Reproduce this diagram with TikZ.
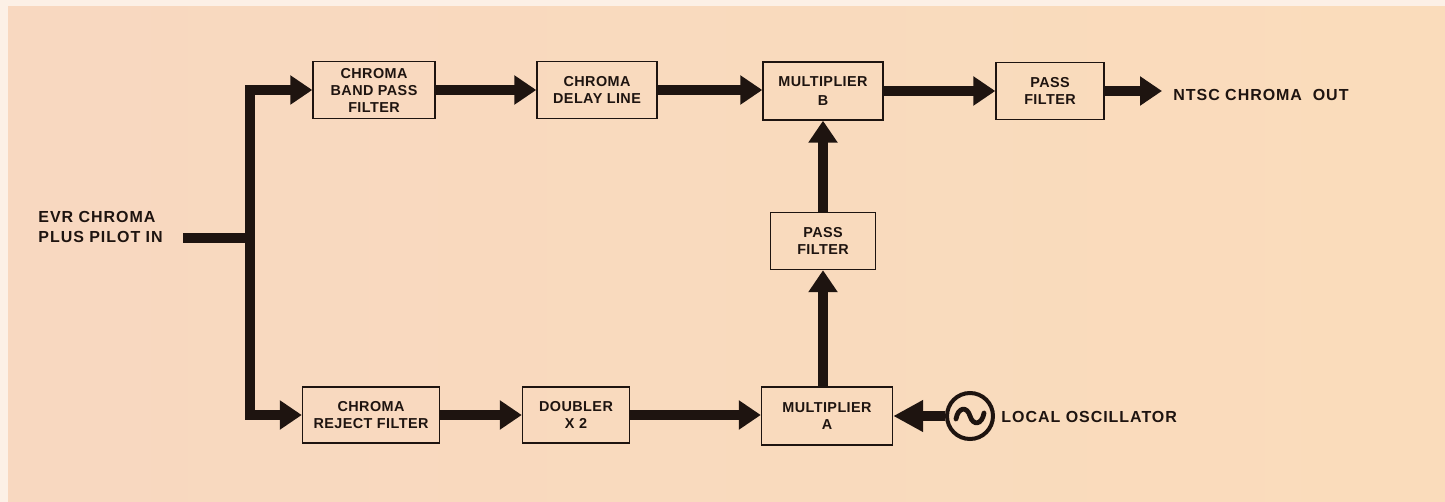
\documentclass[tikz,border=0pt]{standalone}
\usepackage{fontspec}
\setmainfont{Liberation Sans}
\newfontfamily\boxfam[LetterSpace=3]{Liberation Sans}
\newfontfamily\lblfam[LetterSpace=6]{Liberation Sans}
\newcommand{\boxfont}{\boxfam\bfseries\fontsize{7.2}{8.5}\selectfont}
\newcommand{\lblfont}{\lblfam\bfseries\fontsize{8}{10}\selectfont}
\usetikzlibrary{arrows.meta}
\definecolor{bgpeach}{HTML}{F8D8C0}
\definecolor{bgpeachR}{HTML}{FADCBB}
\definecolor{ink}{HTML}{1E1410}
\definecolor{edgecol}{HTML}{FCF0E6}
\tikzset{
  blk/.style={draw=ink, line width=0.7pt, text=ink, align=center, inner sep=0pt, font=\boxfont, minimum height=28.5pt},
  bus/.style={draw=ink, line width=5pt, line join=miter},
  arr/.style={bus, -{Triangle[length=11pt,width=14pt]}},
  lbl/.style={text=ink, font=\lblfont, inner sep=0pt},
}
\begin{document}
\begin{tikzpicture}[x=0.5pt,y=-0.5pt]
\useasboundingbox (0,0) rectangle (1445,502);
\fill[edgecol] (0,0) rectangle (1445,502);
\shade[left color=bgpeach, right color=bgpeachR] (8,7) rectangle (1445,502);

% top row
\node[blk, minimum width=61pt] (bpf) at (374,90) {CHROMA\\BAND PASS\\FILTER};
\node[blk, minimum width=60pt] (dly) at (597,90) {CHROMA\\DELAY LINE};
\node[blk, minimum width=60pt, minimum height=29pt] (mb) at (823,91) {MULTIPLIER\\[1pt]B};
\node[blk, minimum width=54pt] (pfo) at (1050,91) {PASS\\FILTER};
% middle
\node[blk, minimum width=52.5pt] (pfm) at (823,241) {PASS\\FILTER};
% bottom row
\node[blk, minimum width=68.5pt, minimum height=28pt] (rej) at (371,415) {CHROMA\\REJECT FILTER};
\node[blk, minimum width=53.5pt, minimum height=28pt] (dbl) at (576,415) {DOUBLER\\X 2};
\node[blk, minimum width=65.5pt, minimum height=29pt] (ma) at (827,416) {MULTIPLIER\\A};

% labels
\node[lbl, anchor=west, align=left] (evr) at (38,227) {EVR CHROMA\\PLUS PILOT IN};
\node[lbl, anchor=west] (out) at (1173,95) {NTSC CHROMA\ \ OUT};
\node[lbl, anchor=west] (lo) at (1001,417) {LOCAL OSCILLATOR};

% oscillator
\node[draw=ink, line width=2pt, circle, minimum size=23pt, inner sep=0pt] (osc) at (970,416) {};
\begin{scope}[shift={(osc.center)}]
  \draw[ink, line width=2.4pt, line cap=round] (-14,3) .. controls (-12,-9) and (-3,-10) .. (0,0) .. controls (3,10) and (12,9) .. (14,-3);
\end{scope}

% connectors
\coordinate (in) at (183,238);
\coordinate (j) at (250,238);
\draw[bus] (in) -- (j);
\draw[arr] (j) |- (bpf.west);
\draw[arr] (j) |- (rej.west);
\draw[arr] (bpf) -- (dly);
\draw[arr] (dly.east) -- (dly.east -| mb.west);
\draw[arr] (mb) -- (pfo);
\draw[arr, shorten >=5.5pt] (pfo.east) -- (pfo.east -| out.west);
\draw[arr] (rej) -- (dbl);
\draw[arr] (dbl.east) -- (dbl.east -| ma.west);
\draw[arr] (ma.north -| pfm.south) -- (pfm.south);
\draw[arr] (pfm) -- (mb);
\draw[bus, -{Triangle[length=15pt,width=15pt]}] (osc) -- (ma);
\end{tikzpicture}
\end{document}
